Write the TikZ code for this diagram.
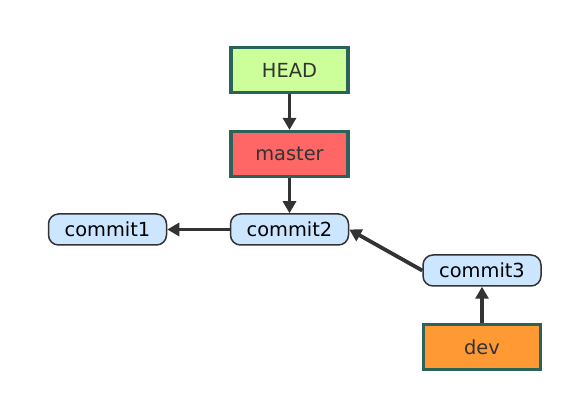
\documentclass[tikz,border=0pt]{standalone}
\usepackage{fontspec}
\setmainfont{DejaVu Sans}
\usetikzlibrary{arrows.meta}
\definecolor{tealdark}{HTML}{2B6358}
\definecolor{gray20}{HTML}{333333}
\definecolor{headgreen}{HTML}{CCFF99}
\definecolor{masterred}{HTML}{FF6666}
\definecolor{devorange}{HTML}{FF9933}
\definecolor{commitblue}{HTML}{CCE6FF}

\begin{document}
\begin{tikzpicture}[
    x=0.5pt, y=-0.5pt,
    ref/.style={rectangle, draw=tealdark, line width=1.6pt, minimum width=58.5pt, minimum height=22.5pt, inner sep=0pt, text=gray20},
    commit/.style={rectangle, rounded corners=5pt, draw=gray20, line width=0.75pt, fill=commitblue, minimum width=59pt, minimum height=15.5pt, inner sep=0pt},
    every node/.style={font=\fontsize{9.7}{11}\selectfont},
    link/.style={-{Triangle[length=6pt,width=6.5pt]}, line width=1.9pt, draw=gray20}
]
    \useasboundingbox (0,0) rectangle (574,401);

    \node[ref, fill=headgreen] (head) at (289.5,70) {HEAD};
    \node[ref, fill=masterred] (master) at (289.5,154) {master};
    \node[commit] (c1) at (107.5,229.5) {commit1};
    \node[commit] (c2) at (289.5,229.5) {commit2};
    \node[commit] (c3) at (482,270.5) {commit3};
    \node[ref, fill=devorange] (dev) at (482,347) {dev};

    \draw[link] (head) -- (master);
    \draw[link] (master) -- (c2);
    \draw[link] (c2) -- (c1);
    \draw[link] (c3.west) -- (c2.east);
    \draw[link] (dev) -- (c3);
\end{tikzpicture}
\end{document}
